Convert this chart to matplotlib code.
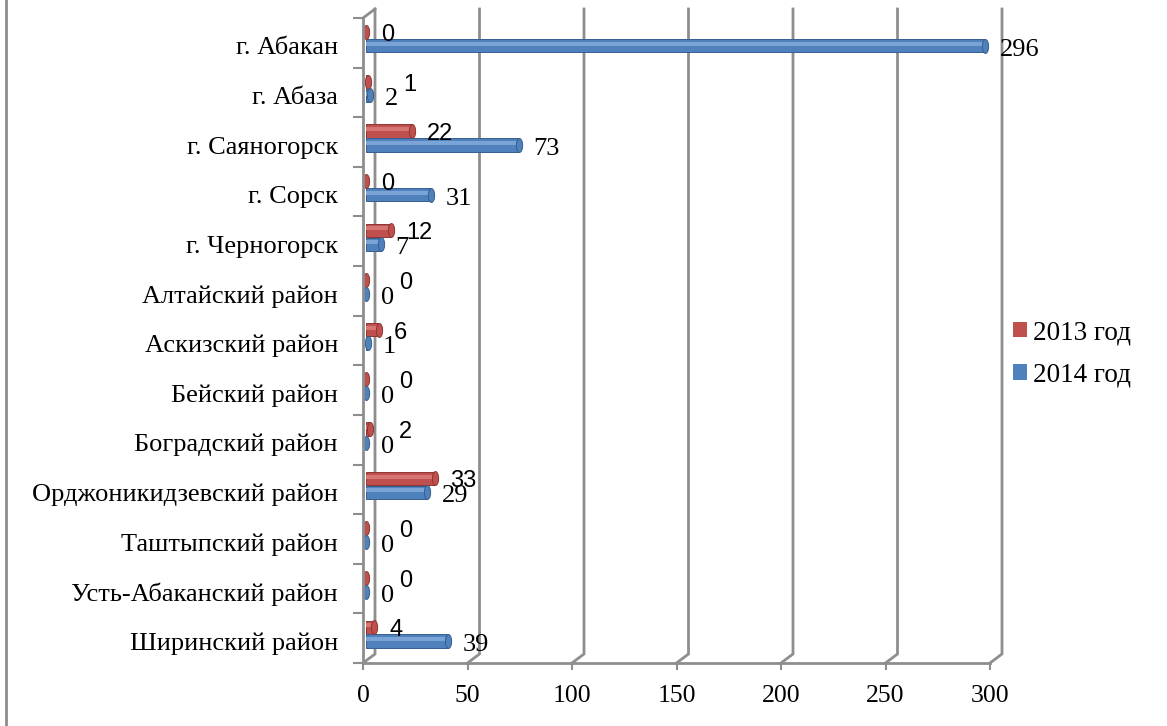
import numpy as np
import matplotlib.pyplot as plt
from matplotlib.path import Path
from matplotlib.patches import Patch
from matplotlib.lines import Line2D
from matplotlib.transforms import ScaledTranslation

categories = [
    "г. Абакан", "г. Абаза", "г. Саяногорск", "г. Сорск", "г. Черногорск",
    "Алтайский район", "Аскизский район", "Бейский район", "Боградский район",
    "Орджоникидзевский район", "Таштыпский район", "Усть-Абаканский район",
    "Ширинский район",
]
values_2013 = [0, 1, 22, 0, 12, 0, 6, 0, 2, 33, 0, 0, 4]
values_2014 = [296, 2, 73, 31, 7, 0, 1, 0, 0, 29, 0, 0, 39]
x_ticks = [0, 50, 100, 150, 200, 250, 300]
series_labels = ["2013 год", "2014 год"]

RED, RED_EDGE, RED_HI = "#C0504D", "#8E3532", "#D77572"
BLUE, BLUE_EDGE, BLUE_HI = "#4F81BD", "#365E8F", "#7AA3D6"
GRID = "#8E8E8E"
SERIF = "Liberation Serif"
SANS = "Liberation Sans"

W, H, DPI = 1167, 726, 100
fig = plt.figure(figsize=(W / DPI, H / DPI), dpi=DPI)
fig.patch.set_facecolor("white")

# front plane of the plot area, in pixels
left_px, right_px, top_px, bottom_px = 363, 990, 18, 663
ax = fig.add_axes([left_px / W, 1 - bottom_px / H,
                   (right_px - left_px) / W, (bottom_px - top_px) / H])

n = len(categories)
y = np.arange(n)
y_lo, y_hi = -0.56, n - 0.56
ax.set_xlim(x_ticks[0], x_ticks[-1])
ax.set_ylim(y_hi, y_lo)

px_x = (x_ticks[-1] - x_ticks[0]) / (right_px - left_px)   # data units per pixel
px_y = (y_hi - y_lo) / (bottom_px - top_px)

# back wall gridlines (pseudo 3D)
dx, dy = 12 * px_x, 9 * px_y
for v in x_ticks:
    ax.plot([v, v + dx, v + dx], [y_hi, y_hi - dy, y_lo - dy],
            color=GRID, lw=2, clip_on=False, zorder=0.5, solid_joinstyle="miter")
ax.plot([0, dx], [y_lo, y_lo - dy], color=GRID, lw=2, clip_on=False, zorder=0.5)

# bars as flat cylinders
bh, off = 0.27, 0.28
shift = ax.transData + ScaledTranslation(3 / DPI, 0, fig.dpi_scale_trans)
t = np.linspace(0, 2 * np.pi, 41)
ellipse = Path(np.column_stack([0.45 * np.cos(t), np.sin(t)]), closed=True)

for vals, ys, col, edge, hi in [
    (values_2013, y - off, RED, RED_EDGE, RED_HI),
    (values_2014, y, BLUE, BLUE_EDGE, BLUE_HI),
]:
    ax.barh(ys, vals, height=bh, color=col, edgecolor=edge, linewidth=0.7,
            transform=shift, zorder=2)
    ax.barh(ys - bh * 0.14, vals, height=bh * 0.3, color=hi, linewidth=0,
            transform=shift, zorder=2.1)
    ax.plot(vals, ys, linestyle="none", marker=ellipse, markersize=10,
            markerfacecolor=col, markeredgecolor=edge, markeredgewidth=0.7,
            transform=shift, clip_on=False, zorder=2.2)

# value labels
for i in range(n):
    b_left = values_2014[i] + 18 * px_x
    r_left = values_2013[i] + 18 * px_x
    if abs(r_left - b_left) < 8 * px_x:
        r_left = b_left + (13 * len(str(values_2014[i])) + 5) * px_x
    ax.text(b_left, y[i] + 4 * px_y, str(values_2014[i]), family=SERIF,
            fontsize=19, ha="left", va="center", clip_on=False, zorder=3)
    ax.text(r_left, y[i] - off + 3 * px_y, str(values_2013[i]), family=SANS,
            fontsize=17, ha="left", va="center", clip_on=False, zorder=3)

# axes styling
for s in ["top", "right"]:
    ax.spines[s].set_visible(False)
for s in ["left", "bottom"]:
    ax.spines[s].set_color(GRID)
    ax.spines[s].set_linewidth(2)

ax.set_xticks(x_ticks)
ax.set_xticklabels([str(v) for v in x_ticks], family=SERIF, fontsize=18.5)
ax.tick_params(axis="x", length=5, width=1.5, color=GRID, pad=11)

ax.set_yticks(y)
ax.set_yticklabels(categories, family=SERIF, fontsize=19)
ax.tick_params(axis="y", which="major", length=0, pad=18)
ax.set_yticks(np.arange(n + 1) + y_lo, minor=True)
ax.tick_params(axis="y", which="minor", length=7, width=1.5, color=GRID)

# legend
handles = [Patch(facecolor=RED), Patch(facecolor=BLUE)]
fig.legend(handles, series_labels, loc="center left",
           bbox_to_anchor=(1013 / W, 1 - 354 / H), frameon=False,
           prop={"family": SERIF, "size": 19.5}, handlelength=0.5,
           handleheight=0.5, handletextpad=0.25, labelspacing=0.65,
           borderpad=0, borderaxespad=0)

# left frame edge
fig.add_artist(Line2D([5.5 / W, 5.5 / W], [0, 1], color="#8C8C8C", lw=2))

fig.savefig("out.png", dpi=DPI, facecolor="white")
